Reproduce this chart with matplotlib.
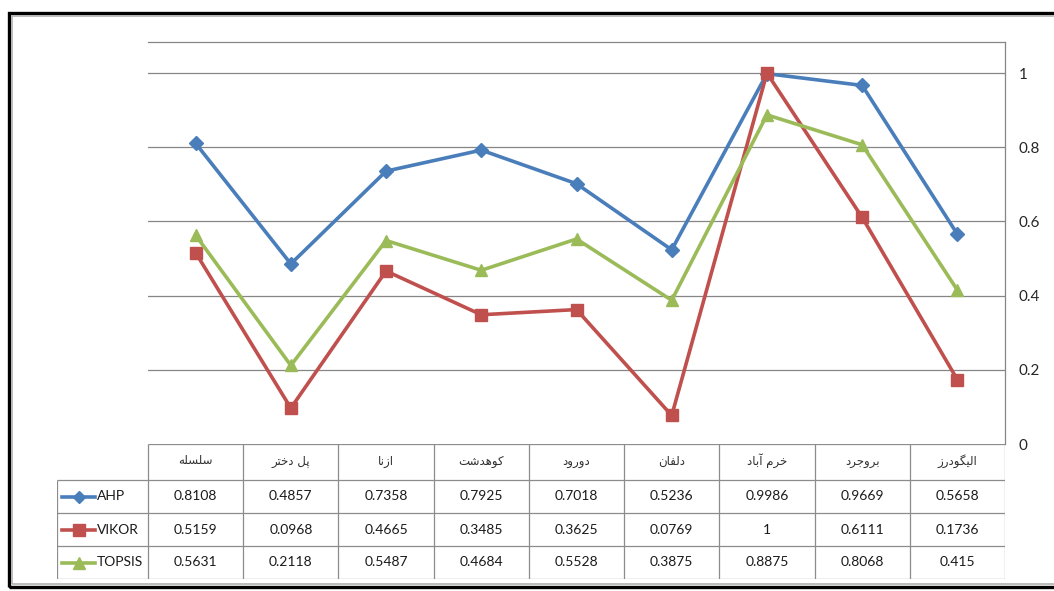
import matplotlib
matplotlib.use("Agg")
import matplotlib.pyplot as plt
from matplotlib.patches import Rectangle
from matplotlib.lines import Line2D

# data
cities = ["سلسله", "پل دختر", "ازنا", "کوهدشت", "دورود", "دلفان", "خرم آباد", "بروجرد", "الیگودرز"]
ahp = [0.8108, 0.4857, 0.7358, 0.7925, 0.7018, 0.5236, 0.9986, 0.9669, 0.5658]
vikor = [0.5159, 0.0968, 0.4665, 0.3485, 0.3625, 0.0769, 1, 0.6111, 0.1736]
topsis = [0.5631, 0.2118, 0.5487, 0.4684, 0.5528, 0.3875, 0.8875, 0.8068, 0.415]
series_names = ["AHP", "VIKOR", "TOPSIS"]
yticks = [0, 0.2, 0.4, 0.6, 0.8, 1]

# matplotlib has no arabic shaping, so pick presentation forms by hand
# (isolated, final, initial, medial)
FORMS = {
    'ا': ('\uFE8D', '\uFE8E', None, None),
    'آ': ('\uFE81', '\uFE82', None, None),
    'ب': ('\uFE8F', '\uFE90', '\uFE91', '\uFE92'),
    'پ': ('\uFB56', '\uFB57', '\uFB58', '\uFB59'),
    'ت': ('\uFE95', '\uFE96', '\uFE97', '\uFE98'),
    'ج': ('\uFE9D', '\uFE9E', '\uFE9F', '\uFEA0'),
    'خ': ('\uFEA5', '\uFEA6', '\uFEA7', '\uFEA8'),
    'د': ('\uFEA9', '\uFEAA', None, None),
    'ر': ('\uFEAD', '\uFEAE', None, None),
    'ز': ('\uFEAF', '\uFEB0', None, None),
    'س': ('\uFEB1', '\uFEB2', '\uFEB3', '\uFEB4'),
    'ش': ('\uFEB5', '\uFEB6', '\uFEB7', '\uFEB8'),
    'ف': ('\uFED1', '\uFED2', '\uFED3', '\uFED4'),
    'ک': ('\uFB8E', '\uFB8F', '\uFB90', '\uFB91'),
    'گ': ('\uFB92', '\uFB93', '\uFB94', '\uFB95'),
    'ل': ('\uFEDD', '\uFEDE', '\uFEDF', '\uFEE0'),
    'م': ('\uFEE1', '\uFEE2', '\uFEE3', '\uFEE4'),
    'ن': ('\uFEE5', '\uFEE6', '\uFEE7', '\uFEE8'),
    'ه': ('\uFEE9', '\uFEEA', '\uFEEB', '\uFEEC'),
    'و': ('\uFEED', '\uFEEE', None, None),
    'ی': ('\uFBFC', '\uFBFD', '\uFBFE', '\uFBFF'),
}


def shape(word):
    out = []
    for i, c in enumerate(word):
        if c not in FORMS:
            out.append(c)
            continue
        prev = word[i - 1] if i > 0 else None
        nxt = word[i + 1] if i + 1 < len(word) else None
        jp = prev in FORMS and FORMS[prev][2] is not None
        jn = FORMS[c][2] is not None and nxt in FORMS
        f = FORMS[c]
        if jp and jn:
            out.append(f[3])
        elif jp:
            out.append(f[1])
        elif jn:
            out.append(f[2])
        else:
            out.append(f[0])
    return "".join(out[::-1])


W, H = 1054, 591
fig = plt.figure(figsize=(W / 100, H / 100), dpi=100)

def fx(px):
    return px / W

def fy(py):
    return 1 - py / H

# outer frame
fig.patches.append(Rectangle((fx(9), fy(587)), fx(1060 - 9), fy(13) - fy(587),
                             transform=fig.transFigure, fill=False, ec="black", lw=2.4))
fig.patches.append(Rectangle((fx(12), fy(584)), fx(1060 - 12), fy(16) - fy(584),
                             transform=fig.transFigure, fill=False, ec="#b0b0b0", lw=1.2))

left, right, top, base = 148, 1005, 42, 444
ax = fig.add_axes([fx(left), fy(base), fx(right - left), fy(top) - fy(base)])
x = list(range(len(cities)))
ax.set_xlim(-0.5, len(cities) - 0.5)
ax.set_ylim(0, 1.084)
grid_c = "#868686"
for t in yticks[1:]:
    ax.axhline(t, color=grid_c, lw=0.9, zorder=1)

colors = ["#4a7ebb", "#c0504d", "#9bbb59"]
markers = ["D", "s", "^"]
msizes = [7, 9, 9]
for vals, c, m, ms in zip([ahp, vikor, topsis], colors, markers, msizes):
    ax.plot(x, vals, color=c, lw=2.6, marker=m, ms=ms, mec=c, mfc=c, zorder=3, clip_on=False)

ax.set_xticks([])
ax.yaxis.tick_right()
ax.set_yticks(yticks)
ax.set_yticklabels([f"{t:g}" for t in yticks], fontfamily="Lato", fontsize=11, color="#262626")
ax.tick_params(axis="y", length=0, pad=10)
for s in ["left", "bottom"]:
    ax.spines[s].set_visible(False)
for s in ["top", "right"]:
    ax.spines[s].set_color(grid_c)
    ax.spines[s].set_linewidth(0.9)

# data table under the plot
leg_left = 57
unit = (right - left) / len(cities)
tab_bottom = 579
tax = fig.add_axes([fx(leg_left), fy(tab_bottom), fx(right - leg_left), fy(base) - fy(tab_bottom)])
x0 = -0.5 - (left - leg_left) / unit
tax.set_xlim(x0, len(cities) - 0.5)
row_h = [36, 33, 33, 33]
edges = [0]
for h in row_h:
    edges.append(edges[-1] + h)
tax.set_ylim(edges[-1], 0)
tax.axis("off")
tab_c = "#8c8c8c"
tax.hlines(0, -0.5, len(cities) - 0.5, color=tab_c, lw=0.9)
for e in edges[1:]:
    tax.hlines(e, x0, len(cities) - 0.5, color=tab_c, lw=0.9)
for k in range(len(cities) + 1):
    tax.vlines(k - 0.5, 0, edges[-1], color=tab_c, lw=0.9)
tax.vlines(x0, edges[1], edges[-1], color=tab_c, lw=0.9)

for k, name in enumerate(cities):
    tax.text(k, (edges[0] + edges[1]) / 2 - 1, shape(name), ha="center", va="center",
             fontfamily="DejaVu Sans", fontsize=8.5, color="#303030")

for r, (nm, vals, c, m, ms) in enumerate(zip(series_names, [ahp, vikor, topsis], colors, markers, msizes)):
    yc = (edges[r + 1] + edges[r + 2]) / 2
    for k, v in enumerate(vals):
        tax.text(k, yc, f"{v:g}", ha="center", va="center", fontfamily="Lato",
                 fontsize=10, color="#1a1a1a")
    lx0 = x0 + 5 / unit
    lx1 = x0 + 38 / unit
    tax.add_line(Line2D([lx0, lx1], [yc, yc], color=c, lw=2.6))
    tax.add_line(Line2D([(lx0 + lx1) / 2], [yc], color=c, marker=m, ms=ms - 1, mec=c, mfc=c))
    tax.text(x0 + 40 / unit, yc, nm, ha="left", va="center", fontfamily="Lato",
             fontsize=10, color="#1a1a1a")

fig.savefig("out.png", dpi=100)
